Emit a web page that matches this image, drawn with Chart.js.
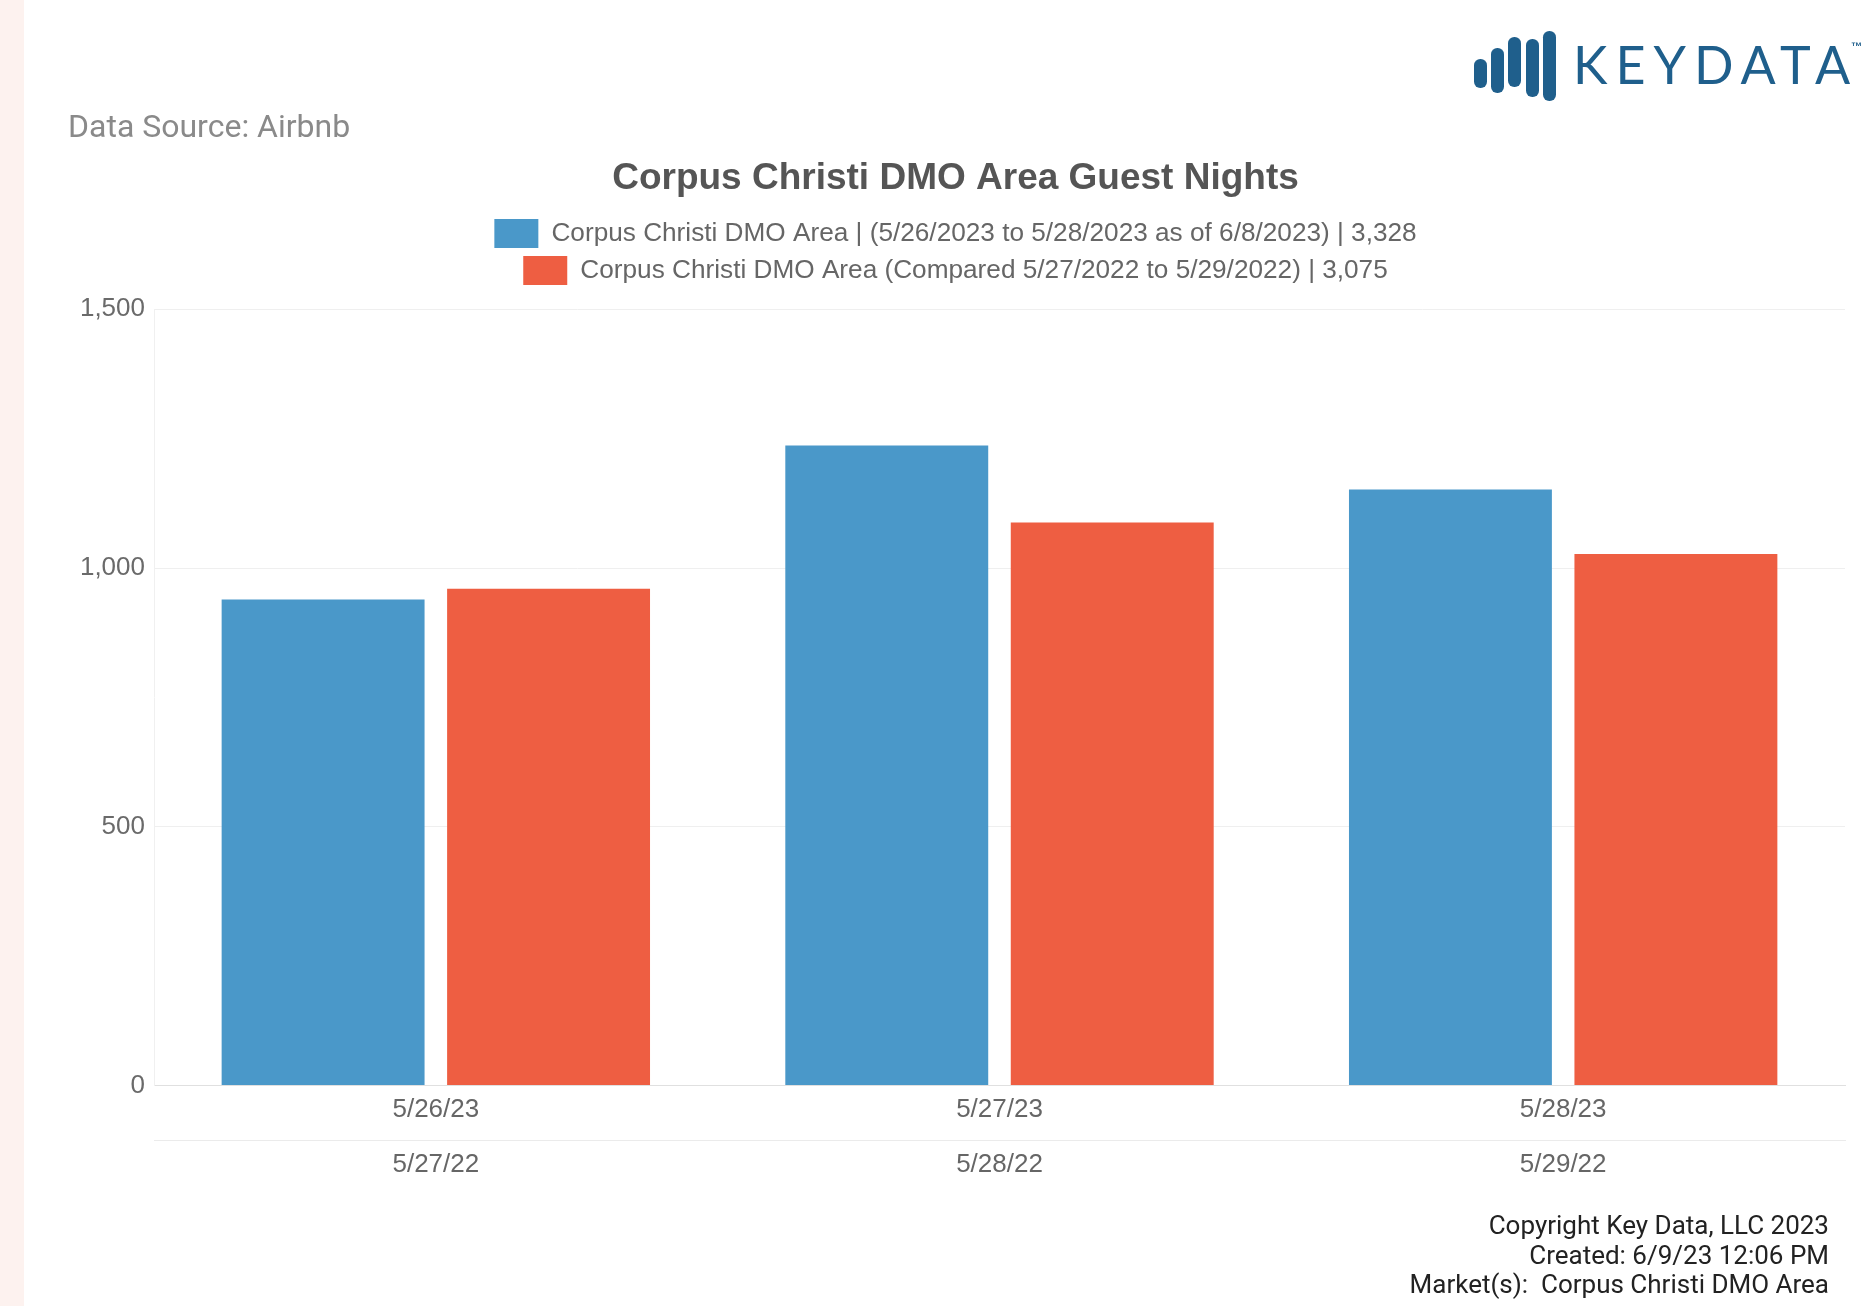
<!DOCTYPE html>
<html>
<head>
<meta charset="utf-8">
<title>Corpus Christi DMO Area Guest Nights</title>
<script src="https://cdn.jsdelivr.net/npm/chart.js@4.4.1/dist/chart.umd.min.js"></script>
<style>
  html, body { margin: 0; padding: 0; background: #ffffff; }
  body { width: 1870px; height: 1306px; position: relative; overflow: hidden; }
  #strip { position: absolute; left: 0; top: 0; width: 24px; height: 1306px; background: #fdf2ef; }
  #wrap { position: absolute; left: 0; top: 0; width: 1870px; height: 1306px; }
  .txt { position: absolute; white-space: pre; }
  #source { left: 68px; top: 110px; font: 32px Roboto, sans-serif; line-height: 32px; color: #8a8a8a; }
  #footer { right: 41px; top: 1211px; font: 26px Roboto, sans-serif; line-height: 29.5px; color: #222; text-align: right; }
  .mark { position: absolute; width: 12.5px; border-radius: 6.25px; background: #1f5f8c; }
  #brand { left: 1573px; top: 38px; font: 400 52px Lato, sans-serif; line-height: 52px; letter-spacing: 8px; color: #1f5f8c; }
  #tm { left: 1851px; top: 41px; font: bold 11px "Liberation Sans", sans-serif; line-height: 11px; color: #1f5f8c; }
</style>
</head>
<body>
<div id="strip"></div>
<div id="wrap"><canvas id="chart"></canvas></div>

<div class="txt" id="source">Data Source: Airbnb</div>

<div class="mark" style="left:1474px;top:59px;height:29px"></div>
<div class="mark" style="left:1491px;top:48px;height:45px"></div>
<div class="mark" style="left:1508px;top:37px;height:50px"></div>
<div class="mark" style="left:1526px;top:39px;height:58px"></div>
<div class="mark" style="left:1543px;top:31px;height:70px"></div>
<div class="txt" id="brand">KEYDATA</div>
<div class="txt" id="tm">™</div>

<div class="txt" id="footer">Copyright Key Data, LLC 2023
Created: 6/9/23 12:06 PM
Market(s):  Corpus Christi DMO Area</div>

<script>
// Stay dates for the current year and the matching prior-year dates
const days2023 = ['5/26/23', '5/27/23', '5/28/23'];
const days2022 = ['5/27/22', '5/28/22', '5/29/22'];

// Guest nights per stay date
const nights2023 = [939, 1237, 1152];
const nights2022 = [960, 1088, 1027];

// Value axis ticks
const yTicks = [0, 500, 1000, 1500];

const sum = arr => arr.reduce((a, b) => a + b, 0);
const fmt = n => n.toLocaleString('en-US');

const label2023 = 'Corpus Christi DMO Area | (5/26/2023 to 5/28/2023 as of 6/8/2023) | ' + fmt(sum(nights2023));
const label2022 = 'Corpus Christi DMO Area (Compared 5/27/2022 to 5/29/2022) | ' + fmt(sum(nights2022));

const FONT = '"Liberation Sans", Arial, Helvetica, sans-serif';
Chart.defaults.font.family = FONT;

new Chart(document.getElementById('chart'), {
  type: 'bar',
  data: {
    labels: days2023,
    datasets: [
      {
        label: label2023,
        data: nights2023,
        backgroundColor: '#4a98c9',
        xAxisID: 'x',
        yAxisID: 'y',
        categoryPercentage: 0.8,
        barPercentage: 0.9
      },
      {
        label: label2022,
        data: nights2022,
        backgroundColor: '#ee5e42',
        xAxisID: 'x',
        yAxisID: 'y',
        categoryPercentage: 0.8,
        barPercentage: 0.9
      }
    ]
  },
  options: {
    responsive: true,
    maintainAspectRatio: false,
    animation: false,
    devicePixelRatio: 1,
    locale: 'en-US',
    layout: { padding: { top: 0, left: 66, right: 25, bottom: 115.8 } },
    plugins: {
      title: {
        display: true,
        text: 'Corpus Christi DMO Area Guest Nights',
        color: '#555555',
        font: { size: 37, weight: 'bold', lineHeight: 1.2 },
        padding: { top: 157, bottom: 9.5 }
      },
      legend: {
        position: 'top',
        labels: {
          boxWidth: 44,
          boxHeight: 29,
          padding: 8,
          color: '#666666',
          font: { size: 26.2 }
        }
      },
      // spacer between the legend rows and the plot
      subtitle: {
        display: true,
        text: '',
        weight: 500,
        font: { size: 1, lineHeight: 1 },
        padding: { top: 0, bottom: 13.4 }
      },
      tooltip: { enabled: false }
    },
    scales: {
      x: {
        type: 'category',
        position: 'bottom',
        grid: { display: false },
        border: { display: true, color: '#e0e0e0' },
        ticks: { color: '#666666', font: { size: 26 }, padding: 1, maxRotation: 0, autoSkip: false },
        afterFit(scale) { scale.height = 54.7; }
      },
      x2: {
        type: 'category',
        position: 'bottom',
        labels: days2022,
        offset: true,
        weight: 1,
        grid: { display: false },
        border: { display: true, color: '#ebebeb' },
        ticks: { color: '#666666', font: { size: 26 }, padding: 0.6, maxRotation: 0, autoSkip: false },
        afterFit(scale) { scale.height = 50; }
      },
      y: {
        position: 'left',
        min: yTicks[0],
        max: yTicks[yTicks.length - 1],
        afterBuildTicks(scale) { scale.ticks = yTicks.map(v => ({ value: v })); },
        ticks: { color: '#6a6a6a', font: { size: 26 }, padding: 9 },
        grid: { color: '#efefef', drawTicks: false },
        border: { display: true, color: '#f0f0f0' },
        afterFit(scale) { scale.width = 88; }
      }
    }
  }
});
</script>
</body>
</html>
